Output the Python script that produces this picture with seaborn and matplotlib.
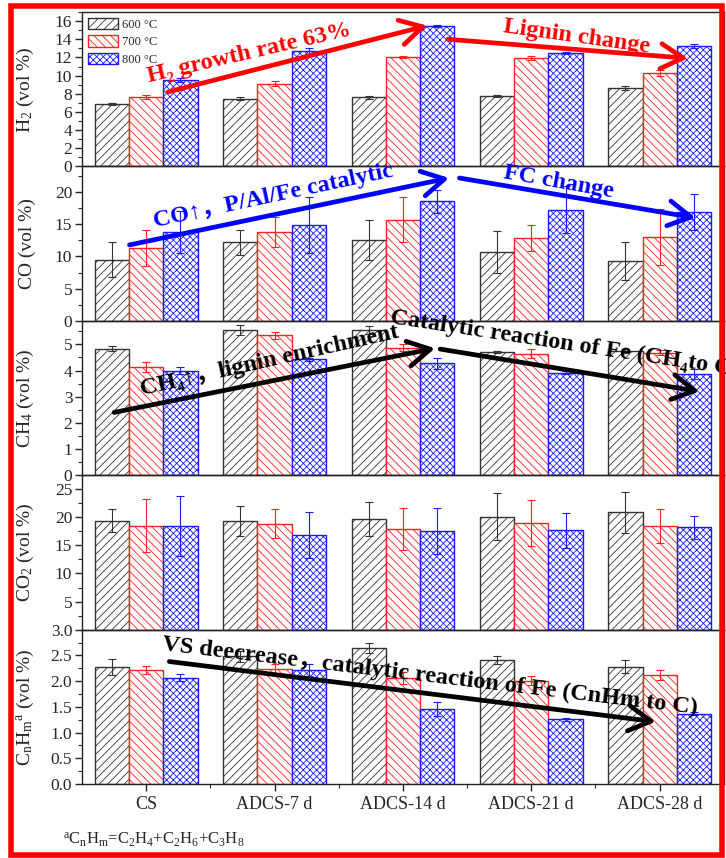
import numpy as np
import pandas as pd
import seaborn as sns
import matplotlib.pyplot as plt
from matplotlib.patches import Rectangle
from matplotlib.ticker import MultipleLocator, FixedLocator, FormatStrFormatter

sns.set_style("ticks")
plt.rcParams['font.family'] = ['Liberation Serif', 'DejaVu Serif', 'Noto Sans CJK SC']
plt.rcParams['mathtext.fontset'] = 'custom'
plt.rcParams['mathtext.rm'] = 'Liberation Serif'
plt.rcParams['mathtext.default'] = 'regular'
plt.rcParams['hatch.linewidth'] = 0.6

samples = ["CS", "ADCS-7 d", "ADCS-14 d", "ADCS-21 d", "ADCS-28 d"]
temps = ["600 °C", "700 °C", "800 °C"]

# H2 (vol %)
h2_600 = [6.9, 7.45, 7.6, 7.75, 8.6]
h2_700 = [7.65, 9.1, 12.05, 11.95, 10.3]
h2_800 = [9.5, 12.7, 15.45, 12.5, 13.25]
h2_err_600 = [0.1, 0.15, 0.2, 0.1, 0.2]
h2_err_700 = [0.2, 0.3, 0.1, 0.2, 0.3]
h2_err_800 = [0.2, 0.3, 0.1, 0.1, 0.25]

# CO (vol %)
co_600 = [9.5, 12.2, 12.5, 10.7, 9.3]
co_700 = [11.3, 13.8, 15.7, 12.9, 13.0]
co_800 = [13.8, 14.9, 18.6, 17.3, 16.9]
co_err_600 = [2.7, 1.9, 3.1, 3.2, 2.9]
co_err_700 = [2.8, 2.3, 3.5, 2.0, 4.4]
co_err_800 = [3.3, 4.3, 1.8, 3.6, 2.8]

# CH4 (vol %)
ch4_600 = [4.84, 5.56, 5.56, 4.71, 4.75]
ch4_700 = [4.14, 5.35, 4.88, 4.65, 4.68]
ch4_800 = [4.0, 4.43, 4.27, 3.92, 3.86]
ch4_err_600 = [0.1, 0.19, 0.15, 0.05, 0.08]
ch4_err_700 = [0.2, 0.13, 0.15, 0.17, 0.1]
ch4_err_800 = [0.12, 0.05, 0.2, 0.05, 0.2]

# CO2 (vol %)
co2_600 = [19.4, 19.4, 19.7, 20.1, 20.9]
co2_700 = [18.5, 18.9, 17.9, 18.95, 18.5]
co2_800 = [18.5, 16.8, 17.5, 17.7, 18.2]
co2_err_600 = [2.1, 2.7, 3.0, 4.2, 3.7]
co2_err_700 = [4.75, 2.5, 3.7, 4.1, 3.0]
co2_err_800 = [5.3, 4.1, 4.1, 3.1, 2.1]

# CnHm (vol %)
cnhm_600 = [2.27, 2.48, 2.65, 2.41, 2.28]
cnhm_700 = [2.22, 2.24, 2.06, 2.01, 2.12]
cnhm_800 = [2.07, 2.21, 1.46, 1.26, 1.37]
cnhm_err_600 = [0.15, 0.1, 0.1, 0.08, 0.13]
cnhm_err_700 = [0.08, 0.1, 0.11, 0.08, 0.1]
cnhm_err_800 = [0.07, 0.12, 0.13, 0.03, 0.02]

panels = [
    ("H$_2$ (vol %)", [h2_600, h2_700, h2_800], [h2_err_600, h2_err_700, h2_err_800], 17, 1, [0, 2, 4, 6, 8, 10, 12, 14, 16], "%d"),
    ("CO (vol %)", [co_600, co_700, co_800], [co_err_600, co_err_700, co_err_800], 24, 2.5, [0, 5, 10, 15, 20], "%d"),
    ("CH$_4$ (vol %)", [ch4_600, ch4_700, ch4_800], [ch4_err_600, ch4_err_700, ch4_err_800], 5.9, 0.5, [0, 1, 2, 3, 4, 5], "%d"),
    ("CO$_2$ (vol %)", [co2_600, co2_700, co2_800], [co2_err_600, co2_err_700, co2_err_800], 27.5, 2.5, [5, 10, 15, 20, 25], "%d"),
    ("C$_n$H$_m{}^a$ (vol %)", [cnhm_600, cnhm_700, cnhm_800], [cnhm_err_600, cnhm_err_700, cnhm_err_800], 3.0, 0.25, [0, 0.5, 1.0, 1.5, 2.0, 2.5, 3.0], "%.1f"),
]

edge_colors = ["#333333", "#ff2020", "#1a1aff"]
hatches = ["////", "\\\\\\\\", "xxxxx"]

fig, axes = plt.subplots(5, 1, sharex=True, figsize=(7.26, 8.58), dpi=100)
fig.subplots_adjust(left=0.113, right=0.997, top=0.986, bottom=0.0862, hspace=0)

bar_groups = []
for i, (ylab, vals, errs, ymax, minor, ticks, fmt) in enumerate(panels):
    ax = axes[i]
    df = pd.DataFrame({
        "sample": np.tile(samples, 3),
        "temp": np.repeat(temps, 5),
        "value": np.concatenate(vals),
    })
    sns.barplot(data=df, x="sample", y="value", hue="temp", order=samples, hue_order=temps,
                palette=["white"] * 3, saturation=1, errorbar=None, width=0.8, legend=False, ax=ax)
    conts = list(ax.containers)
    bar_groups.append(conts)
    for k, cont in enumerate(conts):
        for bar in cont:
            bar.set_facecolor("white")
            bar.set_edgecolor(edge_colors[k])
            bar.set_hatch(hatches[k])
            bar.set_linewidth(1.0)
        xs = [b.get_x() + b.get_width() / 2 for b in cont]
        hs = [b.get_height() for b in cont]
        ax.errorbar(xs, hs, yerr=errs[k], fmt="none", ecolor=edge_colors[k],
                    elinewidth=0.8, capsize=3, capthick=0.8, zorder=3)
    ax.set_xlim(-0.5, 4.5)
    ax.set_ylim(0, ymax)
    ax.yaxis.set_major_locator(FixedLocator(ticks))
    ax.yaxis.set_major_formatter(FormatStrFormatter(fmt))
    ax.yaxis.set_minor_locator(MultipleLocator(minor))
    ax.xaxis.set_minor_locator(FixedLocator([0.5, 1.5, 2.5, 3.5]))
    ax.tick_params(axis="y", which="major", direction="out", length=5, width=1, labelsize=12.5, pad=2)
    ax.tick_params(axis="y", which="minor", direction="out", length=3, width=0.8)
    ax.tick_params(axis="x", which="major", direction="out", length=5, width=1, labelsize=13)
    ax.tick_params(axis="x", which="minor", direction="out", length=3, width=0.8)
    if i < 4:
        ax.tick_params(axis="x", which="both", bottom=False)
    for sp in ax.spines.values():
        sp.set_linewidth(1.0)
        sp.set_color("#222222")
    ax.set_ylabel(ylab, fontsize=14)
    ax.yaxis.set_label_coords(-0.071, 0.5)
    ax.set_xlabel("")
    ax.patch.set_alpha(0)

axes[0].legend(handles=bar_groups[0], labels=temps, loc="upper left",
               bbox_to_anchor=(0.01, 0.96), frameon=False, fontsize=9,
               handlelength=2.4, handleheight=1.0, labelspacing=0.35,
               handletextpad=0.3, borderpad=0, borderaxespad=0)

bold = dict(fontweight="bold", fontsize=17.5, rotation_mode="anchor", zorder=10, clip_on=False)


def arrow(ax, start, end, color):
    ax.annotate("", xy=end, xytext=start, annotation_clip=False, zorder=9,
                arrowprops=dict(arrowstyle="->,head_length=0.8,head_width=0.45", color=color,
                                lw=3.4, mutation_scale=20, shrinkA=0, shrinkB=0))


# H2 panel
arrow(axes[0], (0.17, 8.2), (2.19, 15.5), "red")
arrow(axes[0], (2.35, 14.0), (4.22, 11.9), "red")
axes[0].text(0.8, 12.5, "H₂ growth rate 63%", color="red", rotation=13, ha="center", va="center", **bold)
axes[0].text(3.35, 14.3, "Lignin change", color="red", rotation=-8, ha="center", va="center", **bold)

# CO panel
arrow(axes[1], (-0.13, 11.8), (2.36, 22.2), "blue")
arrow(axes[1], (2.44, 22.2), (4.28, 16.0), "blue")
axes[1].text(0.99, 19.4, "CO↑，P/Al/Fe catalytic", color="blue", rotation=12, ha="center", va="center", **bold)
axes[1].text(3.21, 21.6, "FC change", color="blue", rotation=-10, ha="center", va="center", **bold)

# CH4 panel
arrow(axes[2], (-0.25, 2.4), (2.25, 4.85), "black")
arrow(axes[2], (2.29, 4.82), (4.31, 3.2), "black")
axes[2].text(0.96, 4.36, "CH₄↑，lignin enrichment", color="black", rotation=12.6, ha="center", va="center", **bold)
axes[2].text(1.9, 6.04, "Catalytic reaction of Fe (CH₄to C)", color="black", rotation=-8.6, ha="left", va="center", **bold)

# CnHm panel
arrow(axes[4], (0.18, 2.38), (3.97, 1.21), "black")
axes[4].text(0.127, 2.71, "VS deecrease，catalytic reaction of Fe (CnHm to C)", color="black",
             rotation=-6.8, ha="left", va="center", **bold)

fig.text(63 / 726, 1 - 840 / 858, r"${}^a$C$_n$H$_m$=C$_2$H$_4$+C$_2$H$_6$+C$_3$H$_8$",
         fontsize=12, ha="left", va="center")

fig.patches.append(Rectangle((11 / 726, 3 / 858), (722 - 11) / 726, (855 - 6) / 858,
                             transform=fig.transFigure, fill=False, edgecolor="red", linewidth=4, zorder=20))

plt.savefig("out.png", dpi=100)
